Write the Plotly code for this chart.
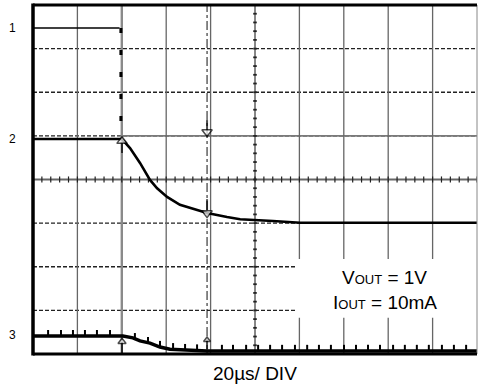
import plotly.graph_objects as go

# ---- data (time in microseconds, amplitude in screen divisions) ----
ch1_t = [0, 39.0]
ch1_v = [7.47, 7.47]
ch1_edge_t = [39.6, 39.6]
ch1_edge_v = [7.47, 4.90]

ch2_t = [0, 40.0, 40.5, 43.7, 48.2, 52.7, 55.9, 60.4, 66.2, 72.1, 78.4, 87.4, 93.3, 108.1, 120.3, 200]
ch2_v = [4.93, 4.93, 4.90, 4.72, 4.38, 3.99, 3.80, 3.60, 3.42, 3.32, 3.23, 3.14, 3.09, 3.05, 3.01, 3.01]

ch3_t = [0, 40.0, 40.5, 45.0, 48.2, 52.7, 57.2, 61.7, 69.4, 78.4, 200]
ch3_v = [0.41, 0.41, 0.41, 0.37, 0.30, 0.25, 0.16, 0.11, 0.09, 0.07, 0.07]

spike_t = [6.8, 12.6, 18.0, 23.4, 28.8, 34.7, 45.9, 51.8, 57.2, 63.1, 68.5, 73.9, 85.1, 90.1,
           96.0, 101.4, 106.8, 112.2, 118.0, 123.5, 128.8, 134.2, 140.1, 145.5, 150.9, 156.3,
           162.2, 167.5, 172.9, 178.3, 184.2, 189.6, 195.1]
spike_v = [0.47, 0.47, 0.47, 0.47, 0.47, 0.47, 0.40, 0.31, 0.22, 0.17, 0.15, 0.14, 0.13, 0.13,
           0.13, 0.13, 0.13, 0.13, 0.13, 0.13, 0.13, 0.13, 0.13, 0.13, 0.13, 0.13,
           0.13, 0.13, 0.13, 0.13, 0.13, 0.13, 0.13]

# cursor arrow heads and their stems
arrow_t = [78.4, 78.4, 40.1, 40.1, 78.4]
arrow_v = [5.09, 3.23, 4.88, 0.28, 0.32]
arrow_sym = ["triangle-down", "triangle-down", "triangle-up", "triangle-up", "triangle-up"]
arrow_size = [9, 9, 9, 7, 6]
stem_t = [78.4, 78.4, 40.1, 40.1, 78.4]
stem_v = [5.25, 3.42, 4.72, 0.12, 0.21]
stem_size = [7, 8, 7, 8, 6]

channel_labels = ["1", "2", "3"]
channel_levels = [7.47, 4.93, 0.43]

note_lines = ["V<span style='font-size:13px'>OUT</span> = 1V",
              "I<span style='font-size:13px'>OUT</span> = 10mA"]
xlabel = "20µs/ DIV"

FONT = "Liberation Sans, Arial, sans-serif"
X0, X1, Y0, Y1 = 0, 200, 0, 8

fig = go.Figure()
shapes = []

def line(x0, y0, x1, y1, color, width, dash="solid", layer="below", ref="data"):
    xr, yr = ("x", "y") if ref == "data" else ("paper", "paper")
    shapes.append(dict(type="line", x0=x0, y0=y0, x1=x1, y1=y1, xref=xr, yref=yr,
                       line=dict(color=color, width=width, dash=dash), layer=layer))

# horizontal dashed grid
for yv in [1, 2, 3, 5, 6, 7]:
    line(X0, yv, X1, yv, "#222222", 1.3, "4px,2px")
# gray solid reference at level 5 right of trigger
line(40, 5, X1, 5, "#7a7a7a", 1.8)
# vertical solid grid
for xv in [20, 60, 80, 120, 140, 160, 180]:
    line(xv, Y0, xv, Y1, "#666666", 1.3)
line(40, Y0, 40, Y1, "#8a8a8a", 2.4)
# centre axes with ticks
line(X0, 4, X1, 4, "#666666", 1.8)
line(100, Y0, 100, Y1, "#111111", 1)
k = 0
while k * 4 <= 200:
    line(k * 4, 3.93, k * 4, 4.07, "#222222", 1.2)
    k += 1
k = 0
while k * 0.2 <= 8:
    line(99.2, k * 0.2, 100.8, k * 0.2, "#222222", 1.8)
    k += 1
# cursor line (dash-dot)
line(78.4, Y0, 78.4, Y1, "#111111", 1, "dashdot")

# white box behind the note
shapes.append(dict(type="rect", x0=118.5, x1=199.4, y0=0.83, y1=2.18, xref="x", yref="y",
                   fillcolor="white", line=dict(width=0), layer="below"))

# frame (paper refs so it is not clipped)
line(1, 0, 1, 1, "#888888", 1, layer="above", ref="paper")
line(0, 1, 1, 1, "#000000", 3, layer="above", ref="paper")
line(0, 0, 1, 0, "#000000", 3, layer="above", ref="paper")
line(0, -0.004, 0, 1.004, "#000000", 3.5, layer="above", ref="paper")

# traces
fig.add_trace(go.Scatter(x=ch1_t, y=ch1_v, mode="lines", line=dict(color="black", width=1.5),
                         hoverinfo="skip", showlegend=False))
fig.add_trace(go.Scatter(x=ch1_edge_t, y=ch1_edge_v, mode="lines",
                         line=dict(color="black", width=3, dash="5px,17px"),
                         hoverinfo="skip", showlegend=False))
fig.add_trace(go.Scatter(x=ch2_t, y=ch2_v, mode="lines", line=dict(color="black", width=2.6),
                         hoverinfo="skip", showlegend=False))
fig.add_trace(go.Scatter(x=ch3_t, y=ch3_v, mode="lines", line=dict(color="black", width=3.5),
                         hoverinfo="skip", showlegend=False))
fig.add_trace(go.Scatter(x=spike_t, y=spike_v, mode="markers",
                         marker=dict(symbol="line-ns", size=5, line=dict(color="black", width=2)),
                         hoverinfo="skip", showlegend=False))
fig.add_trace(go.Scatter(x=stem_t, y=stem_v, mode="markers",
                         marker=dict(symbol="line-ns", size=stem_size, line=dict(color="black", width=2)),
                         hoverinfo="skip", showlegend=False))
fig.add_trace(go.Scatter(x=arrow_t, y=arrow_v, mode="markers",
                         marker=dict(symbol=arrow_sym, size=arrow_size, color="white",
                                     line=dict(color="black", width=1.5)),
                         hoverinfo="skip", showlegend=False))

annotations = []
for lab, lv in zip(channel_labels, channel_levels):
    annotations.append(dict(x=-0.047, y=lv, xref="paper", yref="y", text=lab, showarrow=False,
                            font=dict(family=FONT, size=12, color="black"),
                            xanchor="center", yanchor="middle"))
annotations.append(dict(x=158.5, y=1.76, xref="x", yref="y", text=note_lines[0], showarrow=False,
                        font=dict(family=FONT, size=19, color="black"), xanchor="center", yanchor="middle"))
annotations.append(dict(x=158.5, y=1.17, xref="x", yref="y", text=note_lines[1], showarrow=False,
                        font=dict(family=FONT, size=19, color="black"), xanchor="center", yanchor="middle"))
annotations.append(dict(x=0.5, y=-0.055, xref="paper", yref="paper", text=xlabel, showarrow=False,
                        font=dict(family=FONT, size=19, color="black"), xanchor="center", yanchor="middle"))

fig.update_layout(
    width=479, height=387,
    margin=dict(l=33, r=2, t=5, b=33),
    paper_bgcolor="white", plot_bgcolor="white",
    xaxis=dict(range=[X0, X1], visible=False, fixedrange=True),
    yaxis=dict(range=[Y0, Y1], visible=False, fixedrange=True),
    shapes=shapes, annotations=annotations,
)

fig.write_html("out.html", config={"displayModeBar": False},
               post_script="document.body.style.margin='0';document.body.style.overflow='hidden';")
